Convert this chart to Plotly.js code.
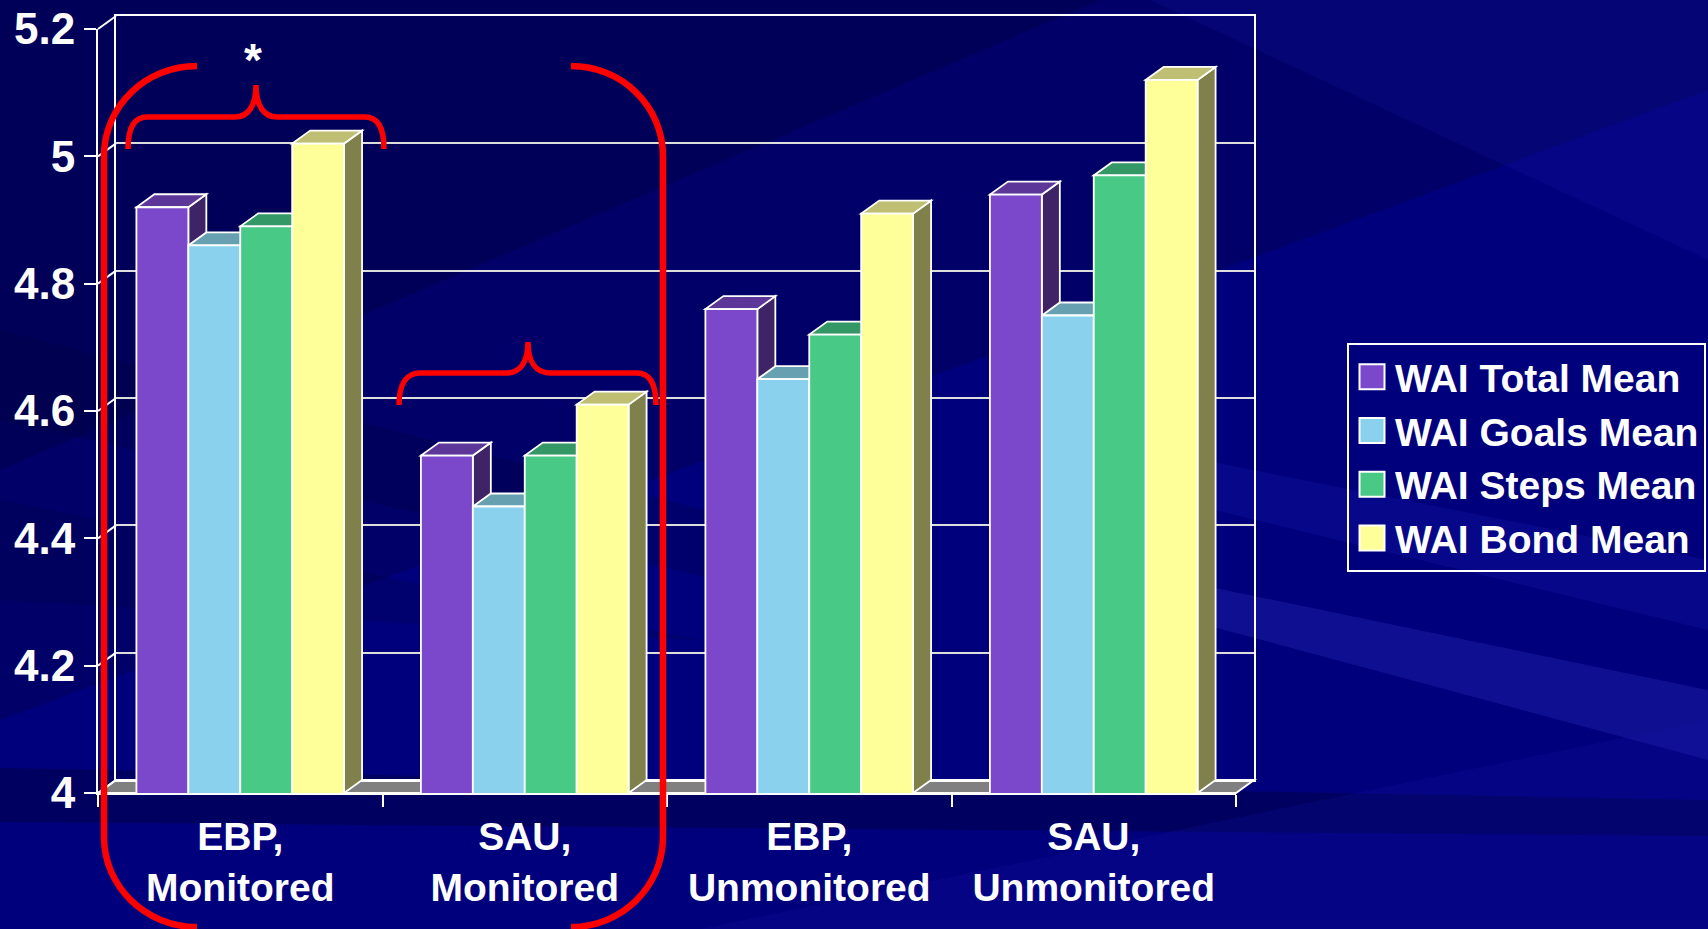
<!DOCTYPE html>
<html><head><meta charset="utf-8">
<script src="https://cdn.plot.ly/plotly-3.0.1.min.js"></script>
<style>html,body{margin:0;padding:0;background:#00007c;overflow:hidden}</style>
</head><body><div id="chart" style="width:1708px;height:929px"></div>
<script>
// ---------- data ----------
const categories = ['EBP,<br>Monitored', 'SAU,<br>Monitored', 'EBP,<br>Unmonitored', 'SAU,<br>Unmonitored'];
const seriesNames = ['WAI Total Mean', 'WAI Goals Mean', 'WAI Steps Mean', 'WAI Bond Mean'];
const totalMean = [4.92, 4.53, 4.76, 4.94];
const goalsMean = [4.86, 4.45, 4.65, 4.75];
const stepsMean = [4.89, 4.53, 4.72, 4.97];
const bondMean  = [5.02, 4.61, 4.91, 5.12];
const yTickVals = [4, 4.2, 4.4, 4.6, 4.8, 5, 5.2];
const yTickText = ['4', '4.2', '4.4', '4.6', '4.8', '5', '5.2'];

// ---------- styling / geometry ----------
const W = 1708, H = 929;
const ML = 98, MR = 454, MT = 16, MB = 136;
const PW = W - ML - MR, PH = H - MT - MB;   // plot area (front + depth)
const FW = 1138, FH = 764, DX = 18, DY = 13; // front plane size and depth offset (px)
const YMIN = 4, YMAX = 5.2;
const dxD = DX * 4 / FW, dyD = DY * (YMAX - YMIN) / FH;
const BW = 0.1825;
const FONT = 'Liberation Sans, Arial, sans-serif';

const frontColors = ['#7B48CC', '#89D1EC', '#48C986', '#FFFF99'];
const topColors   = ['#5C3699', '#67A0B1', '#339865', '#BFBF73'];
const sideColors  = ['#3E2466', '#456B77', '#246644', '#80804D'];
const seriesValues = [totalMean, goalsMean, stepsMean, bondMean];

// px -> paper helpers
const px = x => (x - ML) / PW;
const py = y => 1 - (y - MT) / PH;
const P = (x, y) => px(x).toFixed(5) + ',' + py(y).toFixed(5);

// ---------- traces ----------
const data = [{type: 'scatter', x: [], y: [], xaxis: 'x', yaxis: 'y', showlegend: false, hoverinfo: 'skip'}];
seriesValues.forEach((vals, s) => {
  data.push({
    type: 'bar', name: seriesNames[s], x: categories, y: vals,
    xaxis: 'x2', yaxis: 'y2', width: BW, offset: -2 * BW + s * BW,
    marker: {color: frontColors[s], line: {color: '#FFFFFF', width: 1.8}},
    hoverinfo: 'skip'
  });
});

// ---------- shapes ----------
const shapes = [];
// background streaks
const bg = [
  {pts: [[0,0],[1708,0],[1708,90],[0,720]], c: 'rgba(0,0,35,0.22)'},
  {pts: [[0,0],[1100,0],[0,470]], c: 'rgba(0,0,35,0.22)'},
  {pts: [[0,330],[900,560],[900,620],[0,420]], c: 'rgba(0,0,40,0.18)'},
  {pts: [[0,500],[700,640],[0,600]], c: 'rgba(0,0,40,0.15)'},
  {pts: [[0,768],[1708,800],[1708,836],[0,822]], c: 'rgba(0,0,45,0.35)'},
  {pts: [[1000,420],[1708,560],[1708,630],[1050,470]], c: 'rgba(40,40,200,0.18)'},
  {pts: [[1080,560],[1708,690],[1708,760],[1150,610]], c: 'rgba(60,60,210,0.25)'},
  {pts: [[700,929],[1708,720],[1708,929]], c: 'rgba(20,20,170,0.20)'},
  {pts: [[1150,0],[1708,0],[1708,260]], c: 'rgba(30,30,180,0.18)'}
];
bg.forEach(b => {
  shapes.push({type: 'path', xref: 'paper', yref: 'paper', layer: 'below',
    path: 'M' + b.pts.map(p => P(p[0], p[1])).join(' L') + ' Z',
    fillcolor: b.c, line: {width: 0}});
});

// floor and left wall (frame)
const FX0 = ML, FX1 = ML + FW, FYB = H - MB;
shapes.push({type: 'path', xref: 'paper', yref: 'paper', layer: 'below',
  path: 'M' + P(FX0, FYB) + ' L' + P(FX1, FYB) + ' L' + P(FX1 + DX, FYB - DY) + ' L' + P(FX0 + DX, FYB - DY) + ' Z',
  fillcolor: '#808080', line: {color: '#FFFFFF', width: 2}});
yTickVals.forEach(v => {
  const yf = FYB - (v - YMIN) * FH / (YMAX - YMIN);
  shapes.push({type: 'line', xref: 'paper', yref: 'paper', layer: 'below',
    x0: px(FX0), y0: py(yf), x1: px(FX0 + DX), y1: py(yf - DY),
    line: {color: '#FFFFFF', width: 2}});
});

// 3D faces of bars
categories.forEach((c, ci) => {
  seriesValues.forEach((vals, s) => {
    const v = vals[ci];
    const x0 = ci - 2 * BW + s * BW, x1 = x0 + BW;
    shapes.push({type: 'path', xref: 'x2', yref: 'y2', layer: 'between',
      path: `M${x1},${YMIN} L${x1},${v} L${x1 + dxD},${v + dyD} L${x1 + dxD},${YMIN + dyD} Z`,
      fillcolor: sideColors[s], line: {color: '#FFFFFF', width: 1.8}});
    shapes.push({type: 'path', xref: 'x2', yref: 'y2', layer: 'between',
      path: `M${x0},${v} L${x1},${v} L${x1 + dxD},${v + dyD} L${x0 + dxD},${v + dyD} Z`,
      fillcolor: topColors[s], line: {color: '#FFFFFF', width: 1.8}});
  });
});

// red brackets
const k = 0.5523;
const red = (d, w) => shapes.push({type: 'path', xref: 'paper', yref: 'paper', layer: 'above',
  path: d, line: {color: '#FF0000', width: w}});
function pathFrom(cmds) {
  return cmds.map(c => c[0] + c.slice(1).map(p => P(p[0], p[1])).join(' ')).join(' ');
}
red(pathFrom([
  ['M', [197, 66]],
  ['C', [197 - 93 * k, 66], [104, 156 - 90 * k], [104, 156]],
  ['L', [104, 837]],
  ['C', [104, 837 + 90 * k], [197 - 93 * k, 927], [197, 927]]
]), 6.5);
red(pathFrom([
  ['M', [571, 66]],
  ['C', [571 + 92 * k, 66], [663, 156 - 90 * k], [663, 156]],
  ['L', [663, 837]],
  ['C', [663, 837 + 90 * k], [571 + 92 * k, 927], [571, 927]]
]), 6.5);
red(pathFrom([
  ['M', [128, 149]], ['C', [128, 129], [134, 117], [147, 117]], ['L', [235, 117]],
  ['C', [248, 117], [256, 106], [256, 85]], ['C', [256, 106], [264, 117], [277, 117]],
  ['L', [365, 117]], ['C', [378, 117], [384, 129], [384, 149]]
]), 5.5);
red(pathFrom([
  ['M', [399, 405]], ['C', [399, 385], [406, 373], [420, 373]], ['L', [507, 373]],
  ['C', [520, 373], [528, 362], [528, 342]], ['C', [528, 362], [536, 373], [550, 373]],
  ['L', [637, 373]], ['C', [650, 373], [656, 385], [656, 405]]
]), 5.5);

// ---------- layout ----------
const layout = {
  width: W, height: H,
  margin: {l: ML, r: MR, t: MT, b: MB, pad: 0, autoexpand: false},
  paper_bgcolor: '#00007c', plot_bgcolor: 'rgba(0,0,0,0)',
  font: {family: FONT, color: '#FFFFFF'},
  showlegend: true,
  barmode: 'group',
  xaxis: {domain: [DX / PW, 1], range: [0, 1], anchor: 'y', showgrid: false, zeroline: false,
    showline: true, mirror: true, linecolor: '#FFFFFF', linewidth: 2, showticklabels: false, ticks: '', fixedrange: true},
  yaxis: {domain: [DY / PH, 1], range: [YMIN, YMAX], anchor: 'x', tickmode: 'array', tickvals: yTickVals,
    showgrid: true, gridcolor: '#DDDDDD', gridwidth: 2, zeroline: false,
    showline: true, mirror: true, linecolor: '#FFFFFF', linewidth: 2, showticklabels: false, ticks: '', fixedrange: true},
  xaxis2: {domain: [0, FW / PW], anchor: 'y2', type: 'category', range: [-0.5, 3.5],
    tickson: 'boundaries', ticks: 'outside', ticklen: 12, tickwidth: 2, tickcolor: '#FFFFFF',
    ticklabelstandoff: 8, automargin: false,
    showline: true, linecolor: '#FFFFFF', linewidth: 2, showgrid: false, zeroline: false,
    tickfont: {family: FONT, size: 39, color: '#FFFFFF', weight: 'bold'}, fixedrange: true},
  yaxis2: {domain: [0, FH / PH], anchor: 'x2', range: [YMIN, YMAX], tickmode: 'array', automargin: false,
    tickvals: yTickVals, ticktext: yTickText, ticks: 'outside', ticklen: 12, tickwidth: 2, tickcolor: '#FFFFFF',
    showline: true, linecolor: '#FFFFFF', linewidth: 2, showgrid: false, zeroline: false,
    tickfont: {family: FONT, size: 44, color: '#FFFFFF', weight: 'bold'}, fixedrange: true},
  legend: {x: px(1347), y: py(343), xanchor: 'left', yanchor: 'top',
    bgcolor: 'rgba(0,0,0,0)', bordercolor: '#FFFFFF', borderwidth: 2, itemwidth: 36,
    font: {family: FONT, size: 39, color: '#FFFFFF', weight: 'bold'}, traceorder: 'normal'},
  annotations: [{xref: 'paper', yref: 'paper', x: px(253), y: py(60), text: '*', showarrow: false,
    xanchor: 'center', yanchor: 'middle', font: {family: FONT, size: 46, color: '#FFFFFF', weight: 'bold'}}],
  shapes: shapes
};

Plotly.newPlot('chart', data, layout, {displayModeBar: false, staticPlot: true}).then(() => {
  document.querySelectorAll('.legend .legendpoints path').forEach(p => {
    p.setAttribute('d', 'M12.5,12.5H-12.5V-12.5H12.5Z');
    p.style.strokeWidth = '2px';
    p.style.stroke = '#FFFFFF';
  });
});
</script>
</body></html>
